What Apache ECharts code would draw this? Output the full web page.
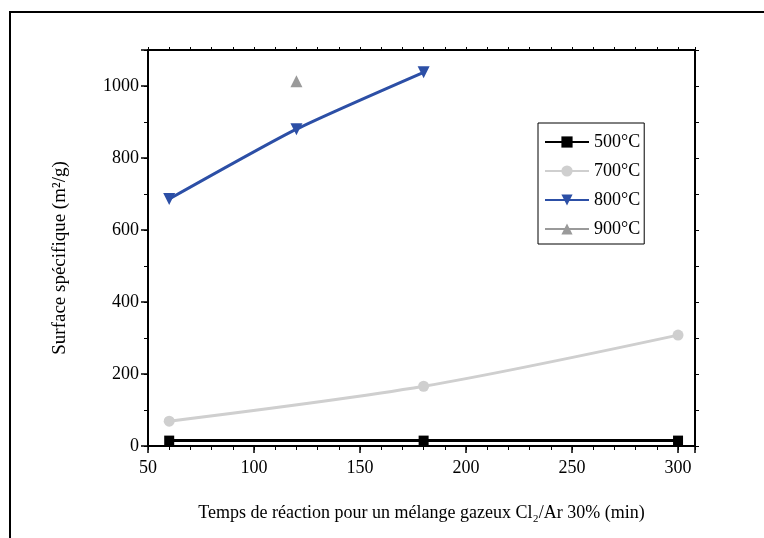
<!DOCTYPE html>
<html><head><meta charset="utf-8">
<script src="https://cdn.jsdelivr.net/npm/echarts@6/dist/echarts.min.js"></script>
<style>html,body{margin:0;padding:0;background:#fff}#c{width:764px;height:538px}</style>
</head><body><div id="c"></div>
<script>
const seriesNames = ['500°C', '700°C', '800°C', '900°C'];
const s500 = [[60, 15], [180, 15], [300, 15]];
const s700 = [[60, 69], [180, 166], [300, 308]];
const s800 = [[60, 686], [120, 880], [180, 1038]];
const s900 = [[120, 1013]];
const xTicks = [50, 100, 150, 200, 250, 300];
const yTicks = [0, 200, 400, 600, 800, 1000];

const font = 'Liberation Serif';
const chart = echarts.init(document.getElementById('c'));
const axLine = {show: true, onZero: false, lineStyle: {color: '#000', width: 2}};
const lbl = {fontFamily: font, fontSize: 18, color: '#000'};
chart.setOption({
  animation: false,
  backgroundColor: '#fff',
  graphic: [{type: 'rect', shape: {x: 10, y: 12, width: 800, height: 600}, style: {fill: 'none', stroke: '#000', lineWidth: 2}, z: 100}],
  grid: {left: 148, right: 69, top: 50, bottom: 92},
  legend: {
    orient: 'vertical', left: 538, top: 123,
    padding: [10, 4, 6, 6], itemGap: 11, itemWidth: 44, itemHeight: 14,
    borderColor: '#000', borderWidth: 1,
    textStyle: {fontFamily: font, fontSize: 18, color: '#000'},
    data: seriesNames
  },
  xAxis: [
    {type: 'value', min: 50, max: 308, interval: 50, position: 'bottom',
     axisLine: axLine, axisTick: {show: true, length: 7, inside: false, lineStyle: {color: '#000', width: 1.5}},
     axisLabel: Object.assign({margin: 13, formatter: v => xTicks.includes(v) ? String(v) : ''}, lbl),
     splitLine: {show: false},
     name: 'Temps de réaction pour un mélange gazeux Cl₂/Ar 30% (min)', nameLocation: 'middle', nameGap: 58,
     nameTextStyle: {fontFamily: font, fontSize: 18, color: '#000'}},
    {type: 'value', min: 50, max: 308, interval: 10, position: 'bottom', gridIndex: 0,
     axisLine: {show: false}, axisTick: {show: true, length: 4, lineStyle: {color: '#000', width: 1}},
     axisLabel: {show: false}, splitLine: {show: false}},
    {type: 'value', min: 50, max: 308, interval: 10, position: 'top',
     axisLine: axLine, axisTick: {show: true, length: 3, lineStyle: {color: '#000', width: 1}},
     axisLabel: {show: false}, splitLine: {show: false}}
  ],
  yAxis: [
    {type: 'value', min: 0, max: 1100, interval: 200, position: 'left',
     axisLine: axLine, axisTick: {show: true, length: 7, lineStyle: {color: '#000', width: 1.5}},
     axisLabel: Object.assign({margin: 9, formatter: v => yTicks.includes(v) ? String(v) : ''}, lbl),
     splitLine: {show: false},
     name: 'Surface spécifique (m²/g)', nameLocation: 'middle', nameGap: 78, nameRotate: 90,
     nameTextStyle: {fontFamily: font, fontSize: 19, color: '#000', padding: [0, 20, 0, 0]}},
    {type: 'value', min: 0, max: 1100, interval: 100, position: 'left',
     axisLine: {show: false}, axisTick: {show: true, length: 4, lineStyle: {color: '#000', width: 1}},
     axisLabel: {show: false}, splitLine: {show: false}},
    {type: 'value', min: 0, max: 1100, interval: 100, position: 'right',
     axisLine: axLine, axisTick: {show: true, length: 4, lineStyle: {color: '#000', width: 1}},
     axisLabel: {show: false}, splitLine: {show: false}}
  ],
  series: [
    {name: seriesNames[0], type: 'line', data: s500, symbol: 'rect', symbolSize: 10,
     lineStyle: {color: '#000', width: 3}, itemStyle: {color: '#000'}},
    {name: seriesNames[1], type: 'line', data: s700, symbol: 'circle', symbolSize: 11, smooth: 0.3,
     lineStyle: {color: '#cfcfcf', width: 3}, itemStyle: {color: '#cfcfcf'}},
    {name: seriesNames[2], type: 'line', data: s800, symbol: 'triangle', symbolRotate: 180, symbolSize: 12, smooth: 0.2,
     lineStyle: {color: '#2c4fa6', width: 3}, itemStyle: {color: '#2c4fa6'}},
    {name: seriesNames[3], type: 'line', data: s900, symbol: 'triangle', symbolSize: 12,
     lineStyle: {color: '#9a9a9a', width: 3}, itemStyle: {color: '#9a9a9a'}}
  ]
});
</script></body></html>
